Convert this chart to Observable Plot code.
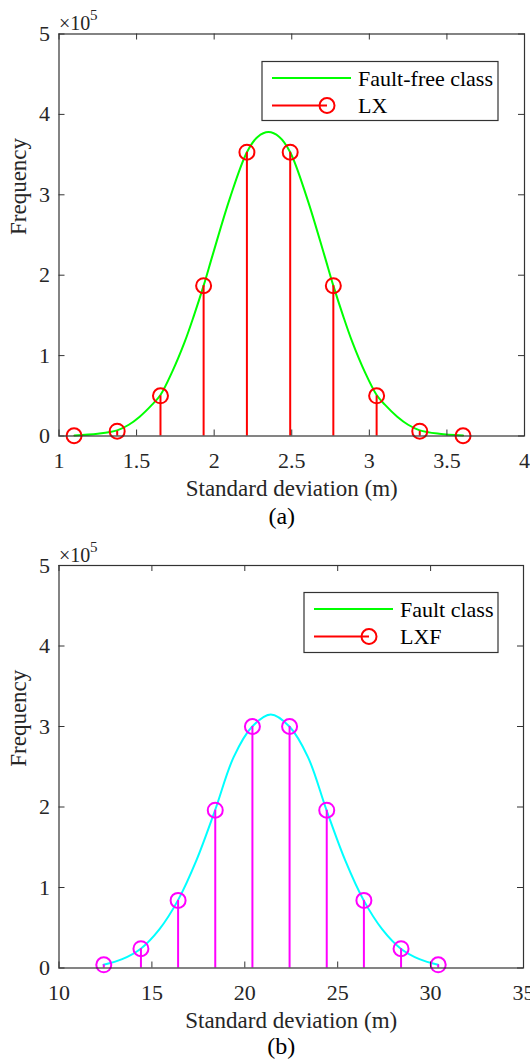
<!DOCTYPE html>
<html><head><meta charset="utf-8">
<script src="https://cdn.jsdelivr.net/npm/d3@7"></script>
<script src="https://cdn.jsdelivr.net/npm/@observablehq/plot@0.6"></script>
<style>
html,body{margin:0;padding:0;background:#fff;overflow:hidden}
#wrap{position:relative;width:530px;height:1060px;font-family:'Liberation Serif'}
#wrap > svg{position:absolute;left:0}
#wrap svg text{font-family:'Liberation Serif' !important}
</style></head><body><div id="wrap"></div>
<script>
// ---------- data ----------
const yTicks = [0, 100000, 200000, 300000, 400000, 500000];
const xTicksA = [1, 1.5, 2, 2.5, 3, 3.5, 4];
const xTicksB = [10, 15, 20, 25, 30, 35];

// panel (a): LX stems and Fault-free class curve
const stemXA = [1.097, 1.375, 1.654, 1.932, 2.211, 2.490, 2.768, 3.047, 3.325, 3.604];
const stemYA = [300, 6000, 50000, 187000, 353000, 353000, 187000, 50000, 6000, 300];
const curveXA = [1.10, 1.25, 1.375, 1.45, 1.52, 1.60, 1.654, 1.73, 1.81, 1.87, 1.932, 1.99, 2.10, 2.211, 2.28, 2.35, 2.42, 2.490, 2.60, 2.71, 2.768, 2.83, 2.89, 2.97, 3.047, 3.10, 3.18, 3.25, 3.325, 3.45, 3.604];
const curveYA = [700, 2800, 7000, 14000, 24000, 39000, 51000, 80000, 117000, 150000, 187000, 225000, 295000, 353000, 372000, 378000, 372000, 353000, 295000, 225000, 187000, 150000, 117000, 80000, 51000, 39000, 24000, 14000, 7000, 2800, 700];

// panel (b): LXF stems and Fault class curve
const stemXB = [12.41, 14.41, 16.41, 18.41, 20.41, 22.41, 24.41, 26.41, 28.41, 30.41];
const stemYB = [4000, 24000, 84000, 196000, 300000, 300000, 196000, 84000, 24000, 4000];
const curveXB = [12.4, 13.4, 14.4, 15.4, 16.4, 17.4, 18.4, 19.4, 20.4, 21.4, 22.4, 23.4, 24.4, 25.4, 26.4, 27.4, 28.4, 29.4, 30.4];
const curveYB = [4000, 11000, 24000, 48000, 84000, 134000, 196000, 262000, 300000, 315000, 300000, 262000, 196000, 134000, 84000, 48000, 24000, 11000, 4000];

const xLabel = "Standard deviation (m)";
const yLabel = "Frequency";

// ---------- drawing ----------
const axisColor = "#333333";
const textColor = "#262626";
const font = "Liberation Serif";
const wrap = document.getElementById("wrap");

function panel(o) {
  const W = 530, H = 530;
  const iw = W - o.mLeft - o.mRight, ih = H - o.mTop - o.mBottom;
  const curve = o.curveX.map((x, i) => ({x, y: o.curveY[i]}));
  const stems = o.stemX.map((x, i) => ({x, y: o.stemY[i]}));
  const chart = Plot.plot({
    width: W, height: H,
    marginLeft: o.mLeft, marginRight: o.mRight, marginTop: o.mTop, marginBottom: o.mBottom,
    style: {fontFamily: font, fontSize: "22px", color: textColor, background: "transparent", overflow: "visible"},
    x: {domain: o.xDomain, ticks: o.xTicks, tickSize: 0, tickPadding: 16, tickFormat: d => String(d), label: null},
    y: {domain: [0, 500000], ticks: yTicks, tickSize: 0, tickPadding: 9, tickFormat: d => String(d / 100000), label: null},
    marks: [
      Plot.line(curve, {x: "x", y: "y", stroke: o.curveColor, strokeWidth: 2, curve: "catmull-rom"}),
      Plot.ruleX(stems, {x: "x", y1: 0, y2: "y", stroke: o.stemColor, strokeWidth: 2}),
      Plot.dot(stems, {x: "x", y: "y", r: 7.5, stroke: o.stemColor, strokeWidth: 2, fill: "none"}),
      Plot.frame({stroke: axisColor, strokeWidth: 1.2}),
      Plot.ruleX(o.xTicks, {x: d => d, insetTop: ih - 6, stroke: axisColor}),
      Plot.ruleX(o.xTicks, {x: d => d, insetBottom: ih - 6, stroke: axisColor}),
      Plot.ruleY(yTicks, {y: d => d, insetRight: iw - 6, stroke: axisColor}),
      Plot.ruleY(yTicks, {y: d => d, insetLeft: iw - 6, stroke: axisColor}),
      Plot.text([xLabel], {text: d => d, frameAnchor: "bottom", lineAnchor: "bottom", dy: 60, fontSize: 23, fontFamily: font, fill: textColor}),
      Plot.text([yLabel], {text: d => d, frameAnchor: "left", lineAnchor: "bottom", rotate: -90, dx: -33, fontSize: 23, fontFamily: font, fill: textColor}),
      Plot.text([o.caption], {text: d => d, frameAnchor: "bottom", lineAnchor: "bottom", dx: -10, dy: o.capDy, fontSize: 24, fontFamily: font, fill: "#000"}),
      Plot.text(["×10"], {text: d => d, frameAnchor: "top-left", textAnchor: "start", lineAnchor: "bottom", dy: -4, fontSize: 20, fontFamily: font, fill: textColor}),
      Plot.text(["5"], {text: d => d, frameAnchor: "top-left", textAnchor: "start", lineAnchor: "bottom", dx: 31, dy: -14, fontSize: 15, fontFamily: font, fill: textColor})
    ]
  });
  chart.style.top = o.top + "px";
  chart.style.fontFamily = font;
  chart.querySelectorAll("text, g").forEach(el => el.setAttribute("font-family", font));
  wrap.appendChild(chart);
}

function legend(o) {
  const svg = d3.create("svg").attr("width", 530).attr("height", 1060)
    .style("position", "absolute").style("left", 0).style("top", 0).style("pointer-events", "none");
  svg.append("rect").attr("x", o.x).attr("y", o.y).attr("width", o.w).attr("height", o.h)
    .attr("fill", "#fff").attr("stroke", axisColor).attr("stroke-width", 1.2);
  const r1 = o.y + 16.5, r2 = o.y + 44;
  const lx0 = o.x + 10, lx1 = o.x + 89, cx = o.x + 65, tx = o.x + 96;
  svg.append("line").attr("x1", lx0).attr("x2", lx1).attr("y1", r1).attr("y2", r1).attr("stroke", "#00ff00").attr("stroke-width", 2);
  svg.append("line").attr("x1", lx0).attr("x2", cx).attr("y1", r2).attr("y2", r2).attr("stroke", "#ff0000").attr("stroke-width", 2);
  svg.append("circle").attr("cx", cx).attr("cy", r2).attr("r", 7.5).attr("fill", "none").attr("stroke", "#ff0000").attr("stroke-width", 2);
  svg.append("text").attr("x", tx).attr("y", r1 + 7.5).text(o.t1)
    .attr("font-family", font).attr("font-size", 22).attr("fill", "#000");
  svg.append("text").attr("x", tx).attr("y", r2 + 7.5).text(o.t2)
    .attr("font-family", font).attr("font-size", 22).attr("fill", "#000");
  wrap.appendChild(svg.node());
}

panel({top: 0, mLeft: 58.5, mRight: 6, mTop: 33.5, mBottom: 94.5, xDomain: [1, 4], xTicks: xTicksA,
  curveX: curveXA, curveY: curveYA, stemX: stemXA, stemY: stemYA, curveColor: "#00ff00", stemColor: "#ff0000",
  caption: "(a)", capDy: 87.5});
panel({top: 530, mLeft: 58.5, mRight: 7, mTop: 35, mBottom: 92.5, xDomain: [10, 35], xTicks: xTicksB,
  curveX: curveXB, curveY: curveYB, stemX: stemXB, stemY: stemYB, curveColor: "#00ffff", stemColor: "#ff00ff",
  caption: "(b)", capDy: 85.5});
legend({x: 262, y: 61.5, w: 236, h: 59, t1: "Fault-free class", t2: "LX"});
legend({x: 304, y: 592.5, w: 194, h: 60, t1: "Fault class", t2: "LXF"});
</script></body></html>
